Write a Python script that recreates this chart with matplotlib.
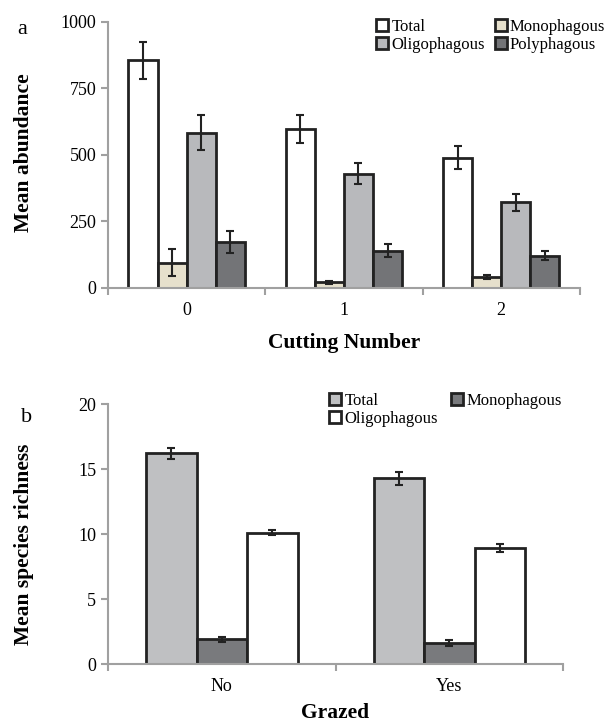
import numpy as np
import matplotlib.pyplot as plt
from matplotlib.patches import Patch

plt.rcParams['font.family'] = ['Liberation Serif', 'DejaVu Serif']

# panel a data
cuts = ['0', '1', '2']
groups_a = ['Total', 'Monophagous', 'Oligophagous', 'Polyphagous']
abund = {
    'Total': [855, 596, 490],
    'Monophagous': [95, 22, 40],
    'Oligophagous': [584, 430, 322],
    'Polyphagous': [172, 140, 122],
}
abund_err = {
    'Total': [68, 53, 43],
    'Monophagous': [50, 6, 7],
    'Oligophagous': [65, 41, 33],
    'Polyphagous': [42, 25, 18],
}
colors_a = ['#ffffff', '#e6e0cc', '#b8b9bc', '#737477']

# panel b data
grazed = ['No', 'Yes']
groups_b = ['Total', 'Monophagous', 'Oligophagous']
rich = {
    'Total': [16.2, 14.3],
    'Monophagous': [1.9, 1.6],
    'Oligophagous': [10.1, 8.9],
}
rich_err = {
    'Total': [0.45, 0.5],
    'Monophagous': [0.2, 0.22],
    'Oligophagous': [0.2, 0.3],
}
colors_b = ['#bfc0c2', '#797a7d', '#ffffff']

edge = '#222222'
axcol = '#a0a0a0'

fig = plt.figure(figsize=(6.12, 7.25), dpi=100)


def style_axes(ax, ncat):
    for s in ['top', 'right']:
        ax.spines[s].set_visible(False)
    for s in ['left', 'bottom']:
        ax.spines[s].set_color(axcol)
        ax.spines[s].set_linewidth(1.5)
    ax.set_xlim(-0.5, ncat - 0.5)
    ax.set_xticks(np.arange(ncat + 1) - 0.5)
    ax.set_xticklabels([])
    ax.set_xticks(np.arange(ncat), minor=True)
    ax.tick_params(axis='x', which='major', direction='out', length=5,
                   width=1.5, color=axcol)
    ax.tick_params(axis='x', which='minor', length=0, labelsize=13, pad=10)
    ax.tick_params(axis='y', direction='out', length=5, width=1.5,
                   color=axcol, labelsize=13)


def draw_bars(ax, cats, groups, vals, errs, colors, width):
    x = np.arange(len(cats))
    n = len(groups)
    for i, g in enumerate(groups):
        pos = x + (i - (n - 1) / 2) * width
        ax.bar(pos, vals[g], width, color=colors[i], edgecolor=edge,
               linewidth=2, zorder=2)
        ax.errorbar(pos, vals[g], yerr=errs[g], fmt='none', ecolor=edge,
                    elinewidth=1.5, capsize=3, capthick=1.5, zorder=3)
    ax.set_xticklabels(cats, minor=True)


# panel a
ax1 = fig.add_axes([0.1765, 0.6028, 0.771, 0.367])
style_axes(ax1, 3)
draw_bars(ax1, cuts, groups_a, abund, abund_err, colors_a, 0.185)
ax1.set_ylim(0, 1000)
ax1.set_yticks([0, 250, 500, 750, 1000])
ax1.set_ylabel('Mean abundance', fontsize=15.5, fontweight='bold')
ax1.yaxis.set_label_coords(-0.157, 0.51)
ax1.set_xlabel('Cutting Number', fontsize=15.5, fontweight='bold', labelpad=10)
order_a = [0, 2, 1, 3]
h_a = [Patch(facecolor=colors_a[i], edgecolor=edge, linewidth=2,
             label=groups_a[i]) for i in order_a]
fig.legend(handles=h_a, loc='upper left', bbox_to_anchor=(0.615, 0.974),
           ncol=2, frameon=False, fontsize=12, handlelength=0.7,
           handleheight=0.7, handletextpad=0.2, columnspacing=0.6,
           labelspacing=0.1, borderaxespad=0, borderpad=0)
fig.text(0.028, 0.953, 'a', fontsize=16)

# panel b
ax2 = fig.add_axes([0.1765, 0.0841, 0.7435, 0.3586])
style_axes(ax2, 2)
draw_bars(ax2, grazed, groups_b, rich, rich_err, colors_b, 0.222)
ax2.set_ylim(0, 20)
ax2.set_yticks([0, 5, 10, 15, 20])
ax2.set_ylabel('Mean species richness', fontsize=15.5, fontweight='bold')
ax2.yaxis.set_label_coords(-0.162, 0.46)
ax2.set_xlabel('Grazed', fontsize=15.5, fontweight='bold', labelpad=6)
order_b = [0, 2, 1]
h_b = [Patch(facecolor=colors_b[i], edgecolor=edge, linewidth=2,
             label=groups_b[i]) for i in order_b]
fig.legend(handles=h_b, loc='upper left', bbox_to_anchor=(0.538, 0.458),
           ncol=2, frameon=False, fontsize=12, handlelength=0.7,
           handleheight=0.7, handletextpad=0.2, columnspacing=0.8,
           labelspacing=0.1, borderaxespad=0, borderpad=0)
fig.text(0.035, 0.418, 'b', fontsize=16)

fig.savefig('out.png', dpi=100)
